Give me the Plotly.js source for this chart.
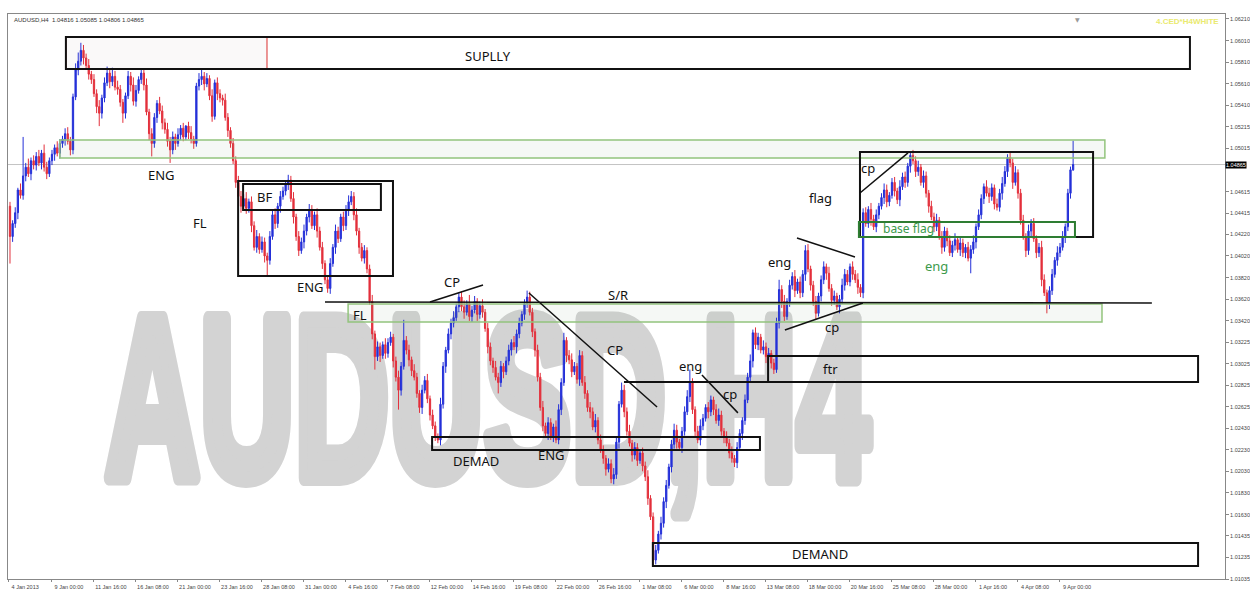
<!DOCTYPE html>
<html><head><meta charset="utf-8">
<script src="https://cdn.plot.ly/plotly-3.0.1.min.js"></script>
<style>
html,body{margin:0;padding:0;background:#fff;}
#wrap{position:relative;width:1250px;height:591px;overflow:hidden;background:#fff;}
#wm{position:absolute;left:0;top:0;}
#chart{position:absolute;left:0;top:0;width:1250px;height:591px;}
</style></head><body>
<div id="wrap">
<svg id="wm" width="1250" height="591"><text x="105" y="478" font-family="Liberation Sans, Arial, sans-serif" font-weight="bold" font-size="131" fill="#d3d3d3" stroke="#d3d3d3" stroke-width="9" stroke-linejoin="round" textLength="765" lengthAdjust="spacingAndGlyphs" transform="translate(0,478) scale(1,1.76) translate(0,-478)">AUDUSD,H4</text></svg>
<div id="chart"></div>
</div>
<script>
// ---- data (prices in pips above 1.0000, i.e. price = 1 + v/10000) ----
const symbolTitle = "AUDUSD,H4  1.04816 1.05085 1.04806 1.04865";
const firstBarIndex = 2;
const firstOpenPips = 448;
const closePips = [
420,432,442,463,458,476,484,478,490,486,
494,488,497,484,478,490,496,502,497,506,
510,515,508,500,549,574,582,592,585,578,
570,565,552,540,534,548,562,571,563,568,
558,556,544,534,550,568,560,545,555,565,
571,560,535,515,506,530,543,536,525,519,
508,500,512,506,514,520,512,522,516,510,
506,559,565,568,561,566,550,531,562,552,
548,546,530,518,506,490,470,457,448,455,
446,452,430,410,420,408,415,402,398,420,
440,432,448,457,462,468,472,455,438,420,
407,415,425,438,445,430,440,425,410,395,
380,372,395,410,425,418,438,430,445,452,
457,440,425,410,400,407,390,360,330,309,
318,310,320,312,322,327,305,290,278,300,
324,315,306,296,290,275,262,278,287,270,
255,245,235,232,265,300,315,330,340,345,
355,364,355,350,358,346,352,360,348,356,
350,335,318,305,299,290,285,300,295,305,
315,322,318,330,340,348,358,364,350,332,
315,290,262,245,238,248,235,244,232,260,
285,324,310,306,295,300,288,310,285,275,
262,258,244,250,232,223,215,205,210,196,
200,230,265,278,258,240,229,218,225,213,
220,208,198,178,161,121,130,145,155,175,
190,207,228,241,230,225,240,258,272,285,
260,240,232,245,252,262,258,269,260,250,
255,240,235,229,220,215,211,225,238,250,
269,290,305,331,320,327,315,318,309,312,
303,297,340,371,360,346,360,375,383,370,
378,368,385,407,390,375,360,349,365,380,
392,386,372,361,365,355,362,375,385,378,
392,385,380,373,368,442,432,445,436,429,
440,448,456,463,452,458,470,462,454,466,
475,470,485,495,490,480,484,470,476,460,
448,438,429,435,420,410,425,416,405,412,
417,408,414,405,410,400,408,415,429,440,
455,466,460,457,465,450,447,460,469,480,
493,488,470,479,460,435,420,407,425,432,
418,405,410,380,368,358,370,385,398,405,
410,420,429,460,481.6,486.5];
const upperWickPips = [
4,3,5,2,6,36,4,8,3,5,
4,6,3,8,5,3,4,3,6,4,
3,5,6,4,3,6,8,7,5,4,
6,3,5,4,6,3,5,6,4,8,
5,6,4,3,3,5,4,7,5,3,
3,4,6,3,5,4,3,6,5,4,
6,4,5,3,6,3,5,1,4,6,
3,3,6,6,4,5,3,6,3,5,
4,3,6,4,3,5,4,6,5,4,
6,3,5,4,6,3,5,4,3,5,
4,6,3,5,4,3,5,4,6,3,
5,4,6,3,5,4,3,6,4,5,
3,4,5,3,6,4,3,5,4,6,
5,4,6,3,4,5,3,4,6,3,
5,4,3,6,4,5,3,4,6,4,
19,4,5,3,6,4,3,5,4,6,
3,5,4,3,6,4,3,5,4,6,
3,4,5,6,3,8,4,5,3,4,
6,3,5,4,3,6,4,5,3,4,
5,3,6,4,5,3,4,6,5,4,
3,5,4,6,3,5,4,3,6,5,
4,7,3,5,6,4,3,5,4,6,
3,5,4,6,3,5,4,3,5,4,
6,4,3,7,5,4,6,3,5,4,
3,5,4,6,3,4,5,3,6,4,
5,3,4,6,5,3,4,5,6,12,
4,3,5,6,4,3,5,4,3,5,
6,4,3,5,4,6,3,5,4,3,
5,4,6,3,5,4,3,6,4,5,
3,4,5,9,4,6,3,5,4,6,
3,5,4,5,6,3,4,5,3,4,
5,3,6,4,5,3,4,6,5,4,
3,5,4,6,3,4,5,3,6,4,
5,3,4,6,5,3,4,5,3,6,
4,5,3,3,5,4,6,3,5,4,
3,5,4,6,3,5,4,3,5,4,
6,3,5,4,3,5,4,6,3,5,
4,3,6,5,4,3,5,4,6,5,
3,5,4,6,3,4,5,3,6,4,
5,3,4,6,5,3,4,5,3,6,
4,5,3,4,3,22];
const lowerWickPips = [
25,5,4,6,3,4,5,3,6,4,
5,3,6,4,5,3,4,6,3,5,
4,6,3,5,4,3,5,4,6,3,
5,4,3,6,12,5,4,3,6,4,
3,5,4,9,5,3,6,4,5,3,
4,5,3,6,12,4,5,3,6,4,
5,12,4,6,3,5,4,3,6,4,
5,3,4,5,6,3,4,5,3,6,
4,5,3,6,4,3,5,4,6,3,
5,4,6,3,5,4,3,6,15,4,
3,5,4,6,3,4,5,3,6,4,
5,3,6,4,5,3,4,6,3,5,
4,4,5,3,6,4,3,5,4,6,
3,5,4,6,3,5,4,3,5,12,
4,6,3,5,4,3,6,4,18,5,
3,4,6,5,3,4,5,6,3,4,
5,3,4,3,5,4,6,3,5,4,
3,5,4,6,3,4,5,3,6,4,
5,3,6,4,5,3,10,4,6,3,
4,5,3,6,4,3,5,4,3,5,
6,4,3,5,4,6,3,5,3,4,
5,3,6,4,5,3,4,6,3,5,
4,6,3,5,4,3,5,6,3,4,
5,4,6,3,5,4,3,6,4,5,
3,5,4,6,3,5,4,3,5,4,
6,3,5,4,6,3,5,4,3,5,
4,6,3,5,4,3,6,4,5,3,
5,4,6,3,5,4,4,5,3,6,
4,3,5,6,4,5,3,4,6,3,
5,4,3,5,6,4,3,5,4,6,
3,5,4,6,3,5,4,6,3,5,
4,6,3,5,4,3,6,4,5,3,
4,5,3,6,4,5,3,4,6,3,
5,4,3,6,5,4,3,5,4,6,
3,5,4,6,3,5,4,3,5,4,
6,3,5,4,3,6,4,5,3,4,
5,3,6,4,5,3,14,4,6,3,
4,5,3,6,4,5,3,4,6,3,
5,4,6,3,5,4,3,6,4,5,
3,5,4,6,3,9,5,4,3,5,
4,3,6,4,5,1];
const xTickBars = [1.3,18,34,50,66,82,98,114,130,146,162,178,194,210,226,242,258,274,290,306,322,338,354,370,386,402];
const xTickLabels = ["4 Jan 2013","9 Jan 00:00","11 Jan 16:00","16 Jan 08:00","21 Jan 00:00","23 Jan 16:00","28 Jan 08:00","31 Jan 00:00","4 Feb 16:00","7 Feb 08:00","12 Feb 00:00","14 Feb 16:00","19 Feb 08:00","22 Feb 00:00","26 Feb 16:00","1 Mar 08:00","6 Mar 00:00","8 Mar 16:00","13 Mar 08:00","18 Mar 00:00","20 Mar 16:00","25 Mar 08:00","28 Mar 00:00","1 Apr 16:00","4 Apr 08:00","9 Apr 00:00"];
const yTickLabels = ["1.06210","1.06010","1.05810","1.05610","1.05410","1.05215","1.05015","1.04615","1.04415","1.04220","1.04020","1.03820","1.03620","1.03420","1.03225","1.03025","1.02825","1.02625","1.02430","1.02230","1.02030","1.01830","1.01630","1.01435","1.01235","1.01035"];
const bidPrice = 1.04865;

// ---- build OHLC ----
const P = v => +(1 + v/10000).toFixed(5);
const xs=[], o=[], h=[], l=[], c=[];
let prev = firstOpenPips;
for (let k=0;k<closePips.length;k++){
  const op = prev, cl = closePips[k];
  xs.push(firstBarIndex+k);
  o.push(P(op)); c.push(P(cl));
  h.push(P(Math.max(op,cl)+upperWickPips[k]));
  l.push(P(Math.min(op,cl)-lowerWickPips[k]));
  prev = cl;
}
const BLUE='#2430d8', RED='#e3303c';
const trace = {type:'candlestick', x:xs, open:o, high:h, low:l, close:c,
  increasing:{line:{color:BLUE,width:1},fillcolor:BLUE},
  decreasing:{line:{color:RED,width:1},fillcolor:RED},
  whiskerwidth:0, hoverinfo:'skip', showlegend:false};

// ---- annotation drawing helpers (bar index / pips) ----
const rect=(x0,p0,x1,p1,color,w,fill)=>({type:'rect',xref:'x',yref:'y',x0,x1,y0:P(p0),y1:P(p1),line:{color,width:w},fillcolor:fill||'rgba(0,0,0,0)',layer:'above'});
const seg=(x0,p0,x1,p1,color,w)=>({type:'line',xref:'x',yref:'y',x0,x1,y0:P(p0),y1:P(p1),line:{color,width:w},layer:'above'});
const K='#111', G='#93c47d', DG='#2e7d32';
const shapes=[
  {type:'line',xref:'paper',yref:'y',x0:0,x1:1,y0:bidPrice,y1:bidPrice,line:{color:'#c4c4c4',width:1},layer:'below'},
  rect(21.0,492.6,419.1,509.2,G,1.5,'rgba(120,150,110,0.07)'),
  rect(130.8,341.0,418.0,357.7,G,1.5,'rgba(120,150,110,0.07)'),
  rect(23.3,574.8,99.9,604.4,'#e57373',1.5,'rgba(150,130,130,0.05)'),
  rect(23.3,574.8,451.5,604.4,K,2),
  rect(88.9,383.5,147.9,471.3,K,2),
  rect(90.8,444.5,143.3,468.5,K,2),
  seg(122.0,359.5,437.0,358.6,K,1.5),
  seg(162.0,359.5,182.2,375.2,K,1.5),
  seg(199.7,367.8,248.5,262.5,K,1.5),
  seg(235.9,285.6,290.8,285.6,K,2),
  rect(162.8,222.8,287.7,234.8,K,2),
  seg(265.6,292.1,279.3,257.0,K,1.5),
  rect(290.8,285.6,454.6,309.6,K,2),
  rect(246.9,115.6,454.6,136.8,K,2),
  seg(301.8,418.6,323.9,401.1,K,1.5),
  seg(297.2,333.6,326.9,358.6,K,1.5),
  rect(325.8,419.6,414.6,498.1,K,2),
  seg(325.8,460.2,344.1,497.2,K,1.5),
  rect(325.4,419.6,407.7,433.4,DG,2)
];
const txt=(x,p,t,color,size)=>({xref:'x',yref:'y',x,y:P(p),text:t,showarrow:false,font:{family:'Noto Sans, Open Sans, sans-serif',size:size||13,color:color||'#111'},xanchor:'center',yanchor:'middle'});
const GT='#3b9a4c';
const annotations=[
  txt(184.1,586.8,'SUPLLY'),
  txt(59.9,476.9,'ENG'),
  txt(74.4,432.5,'FL'),
  txt(99.1,456.5,'BF'),
  txt(116.3,373.4,'ENG'),
  txt(135.3,347.5,'FL'),
  txt(170.4,378.0,'CP'),
  txt(233.6,366.0,'S/R'),
  txt(232.5,315.2,'CP'),
  txt(179.5,212.6,'DEMAD'),
  txt(208.1,218.1,'ENG'),
  txt(261.4,300.4,'eng'),
  txt(276.3,274.5,'cp'),
  txt(314.4,297.6,'ftr'),
  txt(310.6,126.7,'DEMAND'),
  txt(295.3,396.5,'eng'),
  txt(310.6,455.6,'flag'),
  txt(315.1,336.4,'cp'),
  txt(328.8,483.3,'cp'),
  txt(344.1,427.0,'base flag',GT,12),
  txt(355.1,392.8,'eng',GT,13),
  {xref:'paper',yref:'paper',x:0,y:0.9895,xshift:4,text:symbolTitle,showarrow:false,xanchor:'left',yanchor:'middle',font:{family:'Liberation Sans, Arial',size:6,color:'#333'}},
  {xref:'paper',yref:'paper',x:0.997,y:0.9875,text:'<b>4.CED*H4WHITE</b>',showarrow:false,xanchor:'right',yanchor:'middle',font:{family:'Liberation Sans, Arial',size:8,color:'#eaea70'}},
  {xref:'x',yref:'paper',x:408.8,y:1,text:'▼',showarrow:false,xanchor:'center',yanchor:'top',font:{family:'DejaVu Sans',size:6,color:'#999'}},
  {xref:'paper',yref:'y',x:1,y:bidPrice,text:'1.04865',showarrow:false,xanchor:'left',yanchor:'middle',bgcolor:'#000',borderpad:0,font:{family:'Liberation Sans, Arial',size:5.5,color:'#fff'}}
];
const axFont={family:'Liberation Sans, Arial',size:5.5,color:'#444'};
const layout={
  width:1250,height:591,margin:{l:8,r:25,t:14,b:12},
  paper_bgcolor:'rgba(0,0,0,0)',plot_bgcolor:'rgba(0,0,0,0)',showlegend:false,
  xaxis:{type:'linear',range:[1.24,464.86],showgrid:false,zeroline:false,showline:true,mirror:true,linecolor:'#888',linewidth:1,
    ticks:'outside',ticklen:2,tickcolor:'#888',tickvals:xTickBars,ticktext:xTickLabels,tickfont:axFont,ticklabelshift:17,ticklabelstandoff:0,
    rangeslider:{visible:false},fixedrange:true},
  yaxis:{range:[1.01035,1.06256],side:'right',showgrid:false,zeroline:false,showline:true,mirror:true,linecolor:'#888',linewidth:1,
    ticks:'outside',ticklen:3,tickcolor:'#888',tickvals:yTickLabels.map(Number),ticktext:yTickLabels,tickfont:axFont,fixedrange:true},
  shapes,annotations
};
Plotly.newPlot('chart',[trace],layout,{staticPlot:true,displayModeBar:false});
</script>
</body></html>
